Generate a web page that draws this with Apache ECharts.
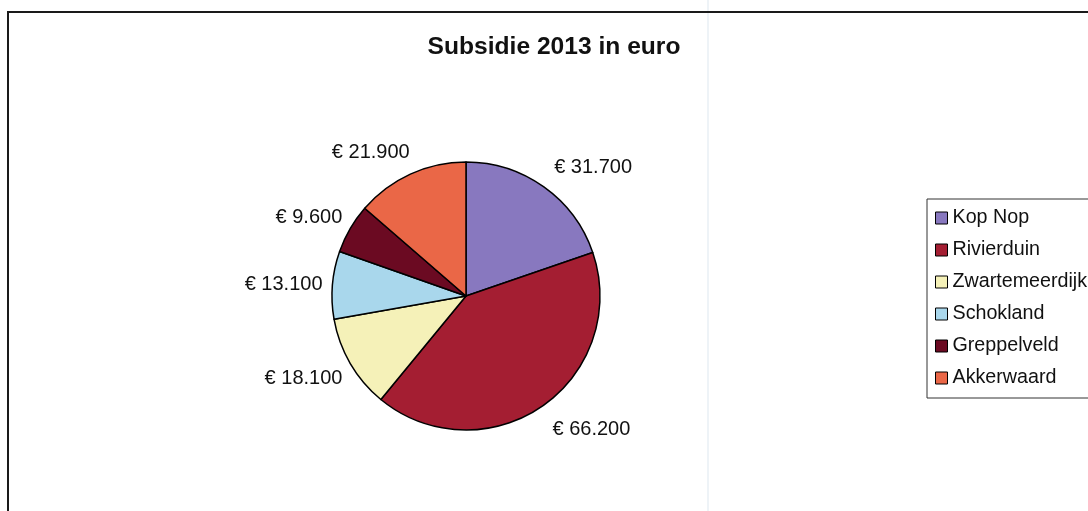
<!DOCTYPE html>
<html>
<head>
<meta charset="utf-8">
<script src="https://cdn.jsdelivr.net/npm/echarts@6/dist/echarts.min.js"></script>
<style>
html,body{margin:0;padding:0;background:#fff;}
#chart{width:1088px;height:511px;}
</style>
</head>
<body>
<div id="chart"></div>
<script>
const categories = ['Kop Nop', 'Rivierduin', 'Zwartemeerdijk', 'Schokland', 'Greppelveld', 'Akkerwaard'];
const values = [31700, 66200, 18100, 13100, 9600, 21900];
const colors = ['#8878bf', '#a41e32', '#f5f1b8', '#a9d7ec', '#6b0a22', '#ea6747'];
const titleText = 'Subsidie 2013 in euro';

const CX = 466, CY = 296, R = 134, LABEL_DIST = 150;
const total = values.reduce((a, b) => a + b, 0);
const midAngles = [];
let acc = 0;
values.forEach(v => { midAngles.push((acc + v / 2) / total * 2 * Math.PI); acc += v; });

function fmt(v) {
  return '€ ' + String(v).replace(/\B(?=(\d{3})+(?!\d))/g, '.');
}

const chart = echarts.init(document.getElementById('chart'));
chart.setOption({
  backgroundColor: '#ffffff',
  animation: false,
  textStyle: { fontFamily: 'Liberation Sans, Arial, sans-serif' },
  title: {
    text: titleText,
    left: 549,
    top: 30,
    textAlign: 'center',
    textStyle: { fontSize: 24.6, fontWeight: 'bold', color: '#111', fontFamily: 'Liberation Sans, Arial, sans-serif' }
  },
  graphic: [
    { type: 'line', shape: { x1: 708, y1: 0, x2: 708, y2: 511 }, style: { stroke: '#dde7ef', lineWidth: 1 }, z: -1 },
    { type: 'rect', shape: { x: 8, y: 12, width: 1100, height: 520 }, style: { fill: 'none', stroke: '#1a1a1a', lineWidth: 2 }, z: 0 }
  ],
  legend: {
    orient: 'vertical',
    left: 927,
    top: 199,
    data: categories,
    icon: 'rect',
    itemWidth: 12,
    itemHeight: 12,
    itemGap: 12,
    itemTextGap: 6,
    padding: [9, 30, 10, 8],
    borderColor: '#333',
    borderWidth: 1,
    backgroundColor: '#fff',
    itemStyle: { borderColor: '#000', borderWidth: 1 },
    textStyle: { fontSize: 19.7, lineHeight: 20, color: '#111', fontFamily: 'Liberation Sans, Arial, sans-serif' }
  },
  series: [{
    type: 'pie',
    center: [CX, CY],
    radius: [0, R],
    startAngle: 90,
    clockwise: true,
    avoidLabelOverlap: false,
    itemStyle: { borderColor: '#000', borderWidth: 1.5 },
    label: {
      show: true,
      position: 'outside',
      formatter: p => fmt(p.value),
      fontSize: 20,
      color: '#111',
      fontFamily: 'Liberation Sans, Arial, sans-serif'
    },
    labelLine: { show: false },
    labelLayout: function (params) {
      const a = midAngles[params.dataIndex];
      const dx = Math.sin(a), dy = -Math.cos(a);
      const w = params.labelRect.width, h = params.labelRect.height;
      const px = CX + LABEL_DIST * dx, py = CY + LABEL_DIST * dy;
      return {
        x: px + (dx < 0 ? -(w / 2 - 6) : w / 2 + 1),
        y: py + dy * h / 2 + 2,
        align: 'center',
        verticalAlign: 'middle'
      };
    },
    emphasis: { disabled: true },
    data: categories.map((c, i) => ({ name: c, value: values[i], itemStyle: { color: colors[i] } }))
  }]
});
</script>
</body>
</html>
